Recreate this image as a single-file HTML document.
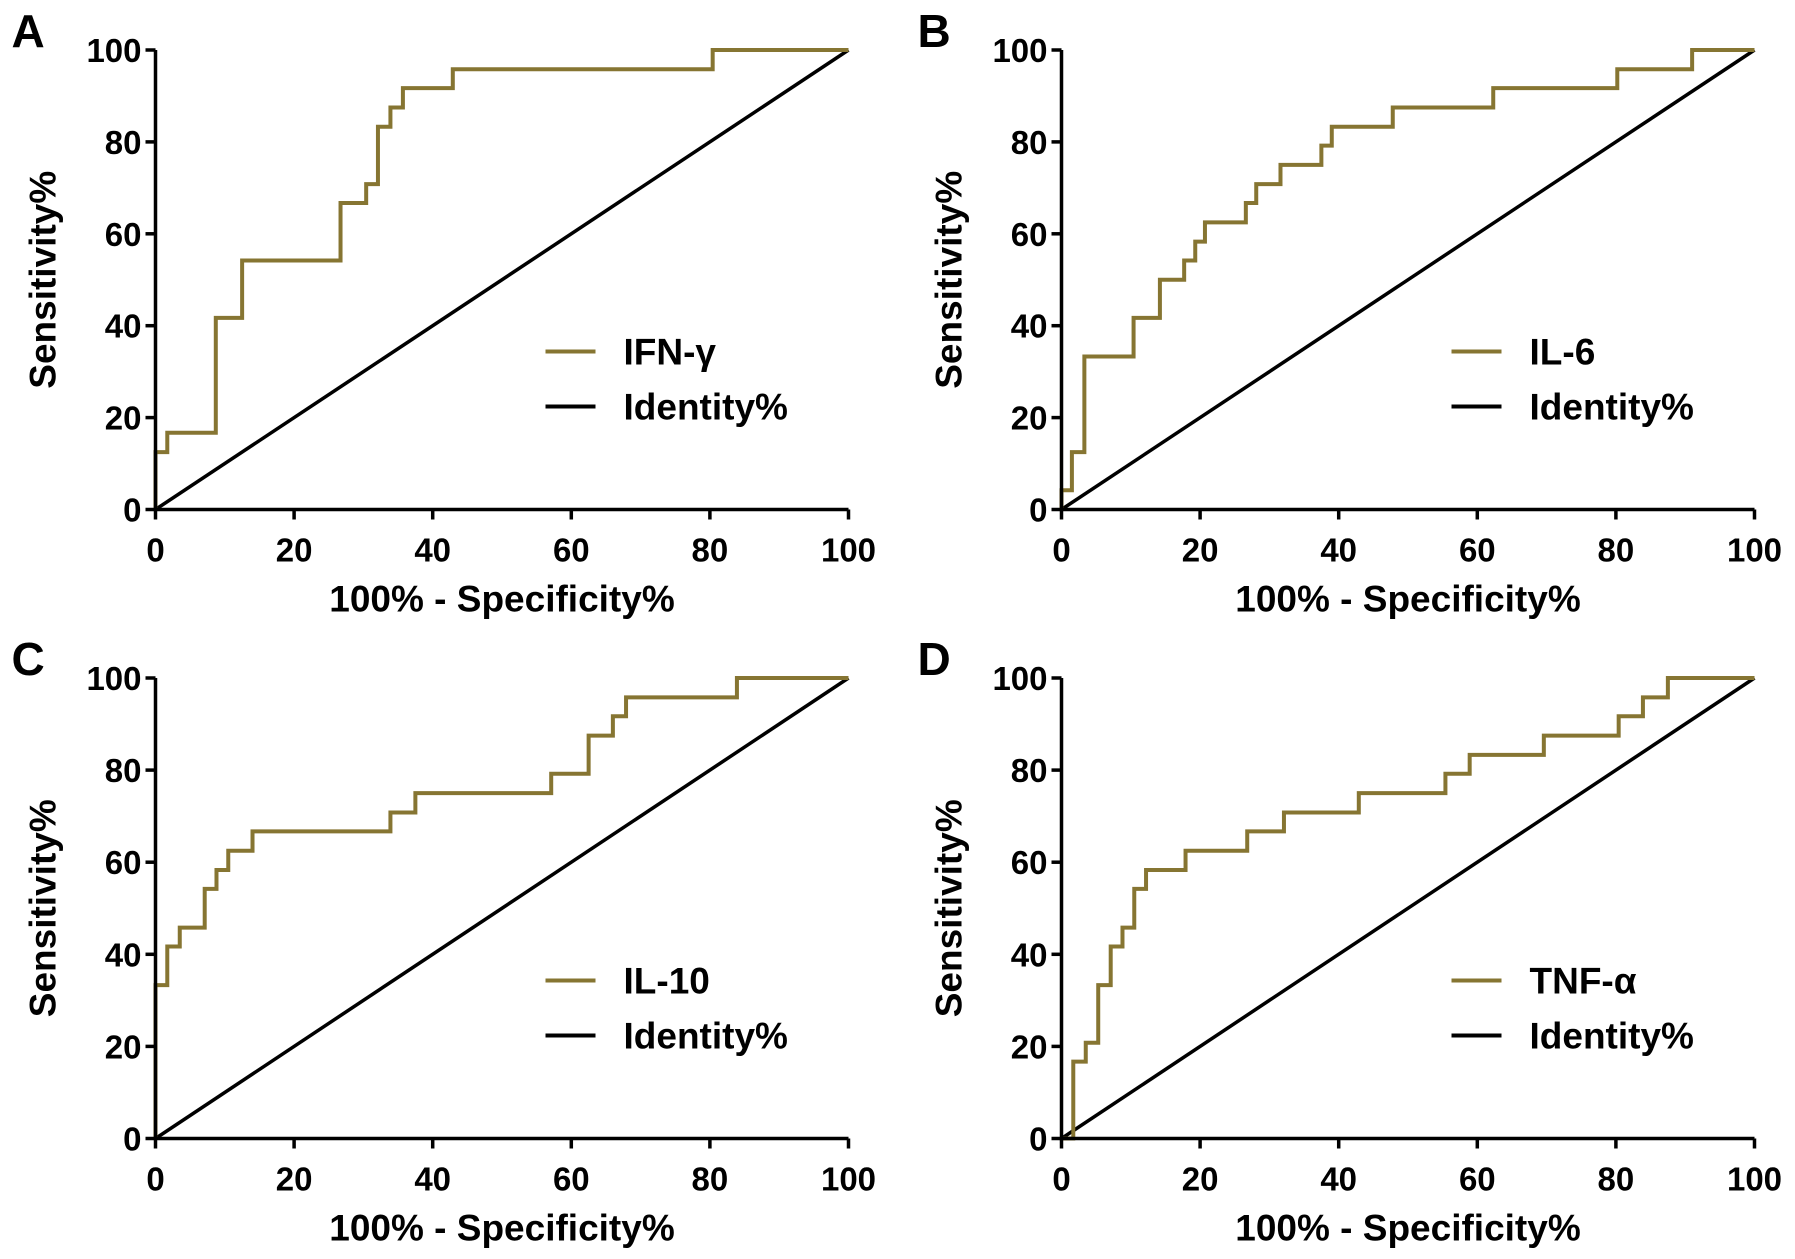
<!DOCTYPE html>
<html><head><meta charset="utf-8">
<style>
html,body{margin:0;padding:0;background:#fff;}
svg{display:block;font-family:"Liberation Sans",Arial,sans-serif;font-weight:bold;}
</style></head>
<body>
<svg id="fig" width="1795" height="1259" viewBox="0 0 1795 1259" xmlns="http://www.w3.org/2000/svg"></svg>
<script>
const ticks = [0,20,40,60,80,100];
const tickLabels = ["0","20","40","60","80","100"];
const panelLetters = ["A","B","C","D"];
const seriesNames = ["IFN-γ","IL-6","IL-10","TNF-α"];
const fprA = [0,0,1.7,8.7,12.5,26.7,30.4,32.1,33.9,35.7,42.9,80.4,100];
const tprA = [0,12.5,16.7,41.7,54.2,66.7,70.8,83.3,87.5,91.7,95.8,100,100];
const fprB = [0,0,1.5,3.3,10.4,14.2,17.7,19.3,20.7,26.6,28.1,31.6,37.5,39,47.8,62.3,80.2,91,100];
const tprB = [0,4.2,12.5,33.3,41.7,50,54.2,58.3,62.5,66.7,70.8,75,79.2,83.3,87.5,91.7,95.8,100,100];
const fprC = [0,0,1.7,3.5,7.1,8.8,10.5,14,33.9,37.5,57.1,62.5,66,67.9,83.9,100];
const tprC = [0,33.3,41.7,45.8,54.2,58.3,62.5,66.7,70.8,75,79.2,87.5,91.7,95.8,100,100];
const fprD = [0,1.7,3.5,5.3,7.1,8.8,10.5,12.2,17.9,26.8,32.1,42.9,55.4,58.9,69.6,80.4,83.9,87.5,100];
const tprD = [0,16.7,20.8,33.3,41.7,45.8,54.2,58.3,62.5,66.7,70.8,75,79.2,83.3,87.5,91.7,95.8,100,100];
const fprs = [fprA,fprB,fprC,fprD];
const tprs = [tprA,tprB,tprC,tprD];

const NS = "http://www.w3.org/2000/svg";
const svg = document.getElementById("fig");
const layout = [
  {x0:155.5,x1:848.5,y0:509.5,y1:50},
  {x0:1061.5,x1:1754.5,y0:509.5,y1:50},
  {x0:155.5,x1:848.5,y0:1138.5,y1:678},
  {x0:1061.5,x1:1754.5,y0:1138.5,y1:678}
];
function mk(tag, attrs, parent){
  const e=document.createElementNS(NS,tag);
  for(const k in attrs) e.setAttribute(k,attrs[k]);
  (parent||svg).appendChild(e); return e;
}
const OLIVE="#867532";
layout.forEach((L,p)=>{
  const sx=v=>L.x0+(L.x1-L.x0)*v/100;
  const sy=v=>L.y0+(L.y1-L.y0)*v/100;
  const g=mk("g",{});
  
  
  const letter=mk("text",{x:L.x0-144,y:L.y1-3,"font-size":46},g);
  letter.textContent=panelLetters[p];
  
  
  const id=mk("line",{x1:sx(0),y1:sy(0),x2:sx(100),y2:sy(100),stroke:"#000","stroke-width":3.5},g);
  
  
  const fx=fprs[p], ty=tprs[p];
  let d="M"+sx(fx[0])+","+sy(ty[0]);
  for(let i=1;i<fx.length;i++){ d+=" H"+sx(fx[i])+" V"+sy(ty[i]); }
  const roc=mk("path",{d:d,fill:"none",stroke:OLIVE,"stroke-width":4},g);
  
  
  const ax=mk("path",{d:`M${L.x0},${L.y1} V${L.y0} H${L.x1}`,fill:"none",stroke:"#000","stroke-width":3.5},g);
  
  
  ticks.forEach((t,i)=>{
    mk("line",{x1:L.x0-10,x2:L.x0,y1:sy(t),y2:sy(t),stroke:"#000","stroke-width":3.5},g);
    mk("line",{x1:sx(t),x2:sx(t),y1:L.y0,y2:L.y0+10,stroke:"#000","stroke-width":3.5},g);
    const yl=mk("text",{x:L.x0-14,y:sy(t)+12,"font-size":33,"text-anchor":"end"},g);
    yl.textContent=tickLabels[i];
    
    
    const xl=mk("text",{x:sx(t),y:L.y0+52,"font-size":33,"text-anchor":"middle"},g);
    xl.textContent=tickLabels[i];
    
    
  });
  const xt=mk("text",{x:(L.x0+L.x1)/2,y:L.y0+102,"font-size":37,"text-anchor":"middle"},g);
  xt.textContent="100% - Specificity%";
  
  
  const ycx=L.x0-100, ycy=(L.y0+L.y1)/2;
  const yt=mk("text",{x:ycx,y:ycy,"font-size":37,"text-anchor":"middle",transform:`rotate(-90 ${ycx} ${ycy})`},g);
  yt.textContent="Sensitivity%";
  
  
  const lx=L.x0+390, ly1=L.y0-158, ly2=L.y0-103;
  const lg=mk("g",{},g);
  
  
  mk("line",{x1:lx,x2:lx+50,y1:ly1,y2:ly1,stroke:OLIVE,"stroke-width":4},lg);
  const t1=mk("text",{x:lx+78,y:ly1+13,"font-size":37},lg);
  t1.textContent=seriesNames[p];
  
  
  mk("line",{x1:lx,x2:lx+50,y1:ly2,y2:ly2,stroke:"#000","stroke-width":4},lg);
  const t2=mk("text",{x:lx+78,y:ly2+13,"font-size":37},lg);
  t2.textContent="Identity%";
  
  
});
</script>
</body></html>
